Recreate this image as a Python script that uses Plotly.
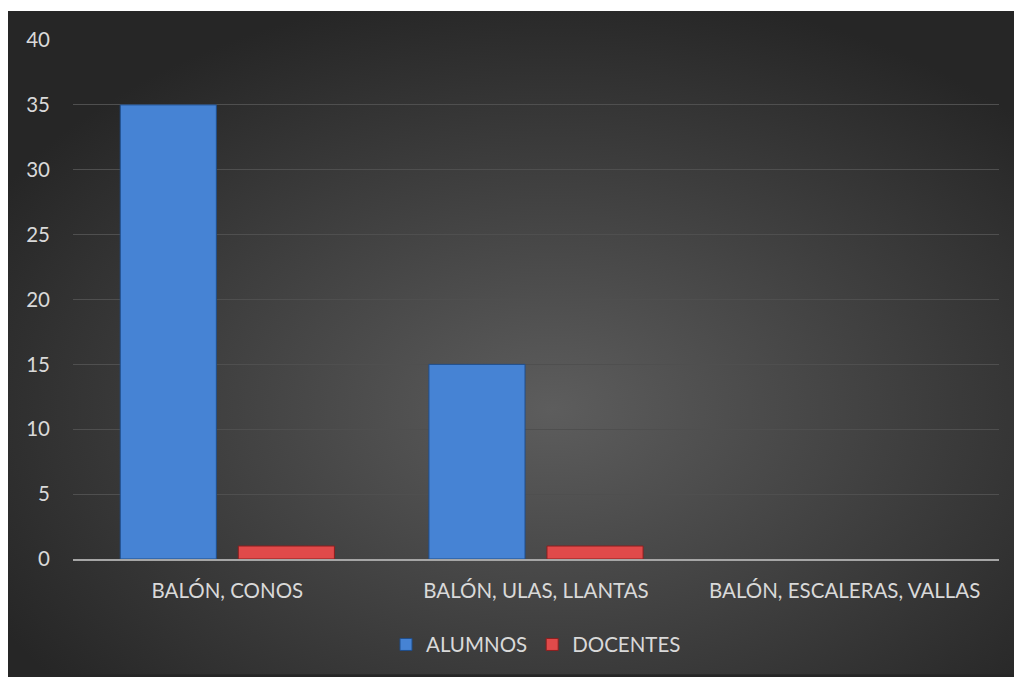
import base64
import plotly.graph_objects as go

categories = ["BALÓN, CONOS", "BALÓN, ULAS, LLANTAS", "BALÓN, ESCALERAS, VALLAS"]
alumnos = [35, 15, 0]
docentes = [1, 1, 0]
y_ticks = [0, 5, 10, 15, 20, 25, 30, 35, 40]

W, H = 1014, 677
ML, MR, MT, MB = 73, 15, 40, 116
pw, ph = W - ML - MR, H - MT - MB
LEFT_WHITE, TOP_WHITE = 8, 11
EDGE = "#262626"

svg = (
    '<svg xmlns="http://www.w3.org/2000/svg" width="1006" height="666" viewBox="0 0 1006 666" preserveAspectRatio="none">'
    '<defs><radialGradient id="g" cx="0.54" cy="0.6" r="0.64">'
    '<stop offset="0" stop-color="#5d5d5d"/><stop offset="1" stop-color="' + EDGE + '"/>'
    '</radialGradient></defs><rect width="1006" height="666" fill="url(#g)"/></svg>'
)
src = "data:image/svg+xml;base64," + base64.b64encode(svg.encode()).decode()


def edge_widths(values):
    return [1 if v > 0 else 0 for v in values]


font = "Lato, 'Open Sans', sans-serif"
fig = go.Figure()
fig.add_trace(go.Bar(name="ALUMNOS", x=categories, y=alumnos,
                     marker=dict(color="#4683d4",
                                 line=dict(color="#1f4e8c", width=edge_widths(alumnos)))))
fig.add_trace(go.Bar(name="DOCENTES", x=categories, y=docentes,
                     marker=dict(color="#e04a4a",
                                 line=dict(color="#8c1f1f", width=edge_widths(docentes)))))

x0p = (LEFT_WHITE - ML) / pw
y1p = 1 + (MT - TOP_WHITE) / ph
fig.add_layout_image(dict(source=src, xref="paper", yref="paper",
                          x=x0p, y=y1p,
                          sizex=(W - LEFT_WHITE) / pw, sizey=(H - TOP_WHITE) / ph,
                          xanchor="left", yanchor="top", sizing="stretch", layer="below"))
# white page strips at top and left
fig.add_shape(type="rect", xref="paper", yref="paper", layer="below",
              x0=-ML / pw - 0.01, x1=1 + MR / pw + 0.01, y0=y1p, y1=1 + MT / ph + 0.01,
              fillcolor="white", line_width=0)
fig.add_shape(type="rect", xref="paper", yref="paper", layer="below",
              x0=-ML / pw - 0.01, x1=x0p, y0=-MB / ph - 0.01, y1=1 + MT / ph + 0.01,
              fillcolor="white", line_width=0)

fig.update_layout(
    width=W, height=H,
    margin=dict(l=ML, r=MR, t=MT, b=MB),
    paper_bgcolor=EDGE, plot_bgcolor="rgba(0,0,0,0)",
    barmode="group", bargap=0.235, bargroupgap=0.186,
    font=dict(family=font, size=20.5, color="#d9d9d9"),
    showlegend=True,
    legend=dict(orientation="h", x=0.5, xanchor="center", y=-0.165, yanchor="middle",
                bgcolor="rgba(0,0,0,0)", font=dict(size=20.5, color="#d9d9d9"),
                itemwidth=30, tracegroupgap=0),
)
fig.update_yaxes(range=[0, 40], tickvals=y_ticks, showgrid=True, gridcolor="#4f4f4f",
                 gridwidth=1, zeroline=False, showline=False, ticks="",
                 ticklabelstandoff=22)
fig.update_xaxes(showline=True, linecolor="#a6a6a6", linewidth=2, ticks="",
                 showgrid=False, ticklabelstandoff=12)

fig.write_html("out.html", config={"displayModeBar": False},
               post_script="document.body.style.margin='0';document.body.style.overflow='hidden';")
